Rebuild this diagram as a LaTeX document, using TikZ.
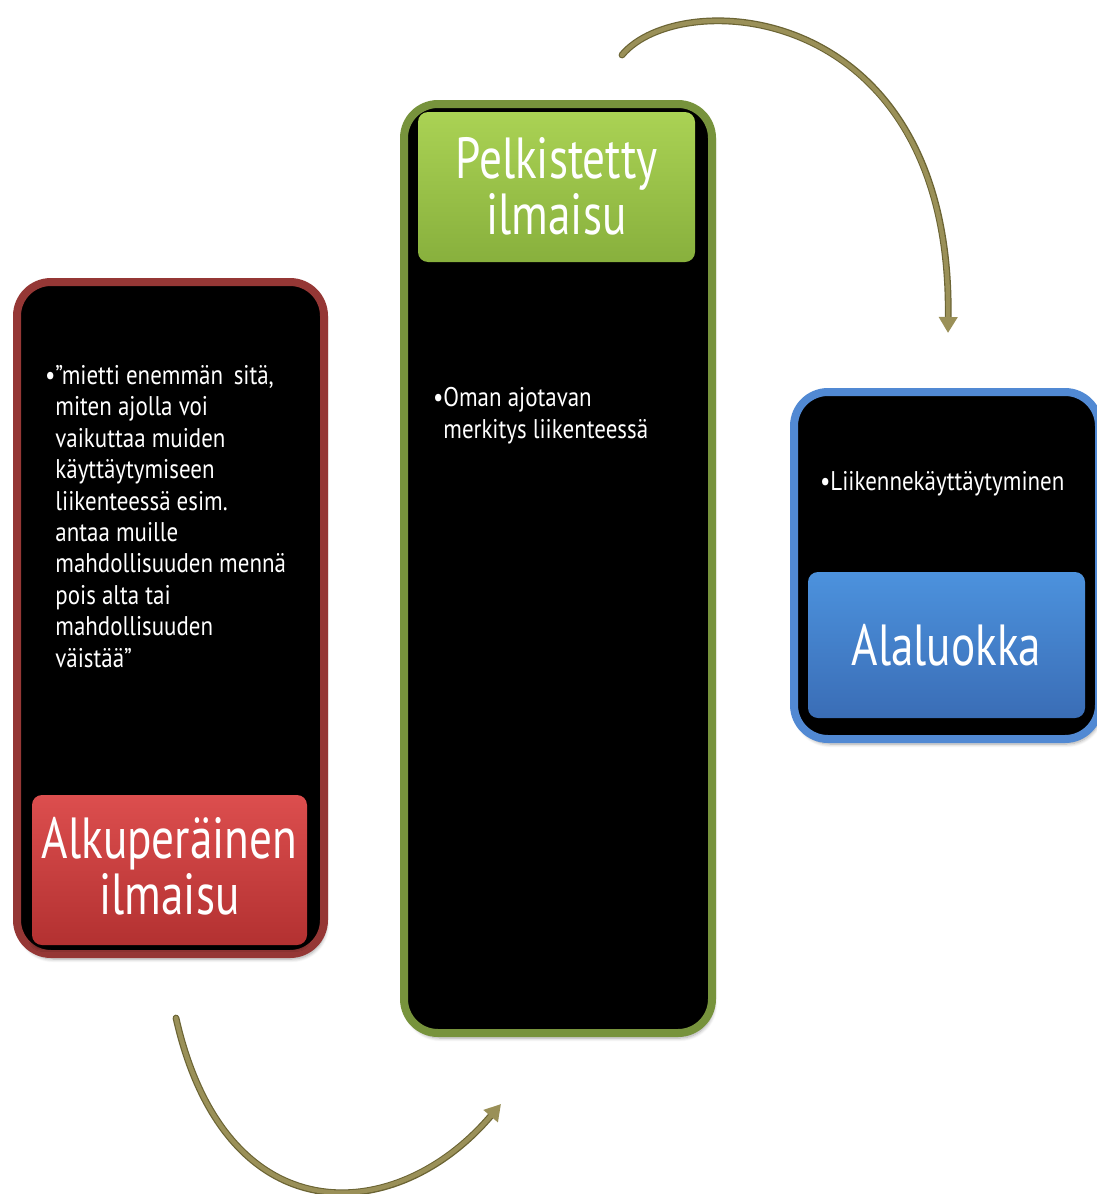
\documentclass[tikz,border=0pt]{standalone}
\usepackage{fontspec}
\usetikzlibrary{shadows.blur,arrows.meta}
\newfontfamily\titlefont[FakeStretch=0.78]{PT Sans}
\newfontfamily\bodyfont[FakeStretch=0.85]{PT Sans}
\definecolor{redborder}{HTML}{953735}
\definecolor{redtop}{HTML}{DC4E4E}
\definecolor{redbot}{HTML}{B33131}
\definecolor{greenborder}{HTML}{77933C}
\definecolor{greentop}{HTML}{AAD254}
\definecolor{greenbot}{HTML}{88B03D}
\definecolor{blueborder}{HTML}{5189D3}
\definecolor{bluetop}{HTML}{4C92DD}
\definecolor{bluebot}{HTML}{3A6DB6}
\definecolor{arrowcol}{HTML}{9A9058}
\definecolor{arrowdark}{HTML}{6B6434}
\tikzset{
  frame/.style={draw=#1, line width=4pt, fill=black, rounded corners=17pt,
    blur shadow={shadow xshift=1pt, shadow yshift=-2.5pt, shadow blur steps=8, shadow opacity=35}},
  labelbox/.style n args={2}{rounded corners=5pt, top color=#1, bottom color=#2,
    blur shadow={shadow xshift=0pt, shadow yshift=-1.5pt, shadow blur steps=6, shadow opacity=50}},
  titletext/.style={text=white, font=\titlefont\fontsize{29}{28}\selectfont, align=center, inner sep=0pt},
  bodytext/.style={text=white, font=\bodyfont\fontsize{13.5}{15.7}\selectfont, align=left, inner sep=0pt},
  flowbase/.style={line width=3.4pt, draw=arrowdark, line cap=round},
  flowtop/.style={line width=2.2pt, draw=arrowcol, line cap=round,
    -{Triangle[width=9pt,length=8pt,fill=arrowcol]}},
}
\begin{document}
\begin{tikzpicture}[x=0.5pt,y=-0.5pt]
\useasboundingbox (0,0) rectangle (1097,1194);

% outer frames
\draw[frame=redborder] (17,282) rectangle (324,954);
\draw[frame=greenborder] (404,104) rectangle (712,1033);
\draw[frame=blueborder] (794,392) rectangle (1099,739);

% coloured heading boxes
\path[labelbox={redtop}{redbot}] (32,795) rectangle (307,945);
\path[labelbox={greentop}{greenbot}] (418,112) rectangle (695,262);
\path[labelbox={bluetop}{bluebot}] (808,572) rectangle (1085,718);

\node[titletext] (orig) at (169.5,866) {Alkuperäinen\\ilmaisu};
\node[titletext] (simp) at (556.5,186) {Pelkistetty\\ilmaisu};
\node[titletext] (sub) at (946.5,645) {Alaluokka};

% bullet texts
\node[bodytext, anchor=north west] (quote) at (55,365)
  {\llap{•}”mietti enemmän\, sitä,\\miten ajolla voi\\vaikuttaa muiden\\käyttäytymiseen\\liikenteessä esim.\\antaa muille\\mahdollisuuden mennä\\pois alta tai\\mahdollisuuden\\väistää”};
\node[bodytext, anchor=north west] (mean) at (443,387)
  {\llap{•}Oman ajotavan\\merkitys liikenteessä};
\node[bodytext, anchor=north west] (beh) at (830,471)
  {\llap{•}Liikennekäyttäytyminen};

% curved arrows
\coordinate (a1) at (622,55);
\coordinate (b1) at (948,333);
\coordinate (a2) at (176,1018);
\coordinate (b2) at (501,1104);
\draw[flowbase, shorten >=8pt] (a1) .. controls (680,-15) and (952,0) .. (b1);
\draw[flowtop] (a1) .. controls (680,-15) and (952,0) .. (b1);
\draw[flowbase, shorten >=8pt] (a2) .. controls (225,1235) and (395,1228) .. (b2);
\draw[flowtop] (a2) .. controls (225,1235) and (395,1228) .. (b2);
\end{tikzpicture}
\end{document}
